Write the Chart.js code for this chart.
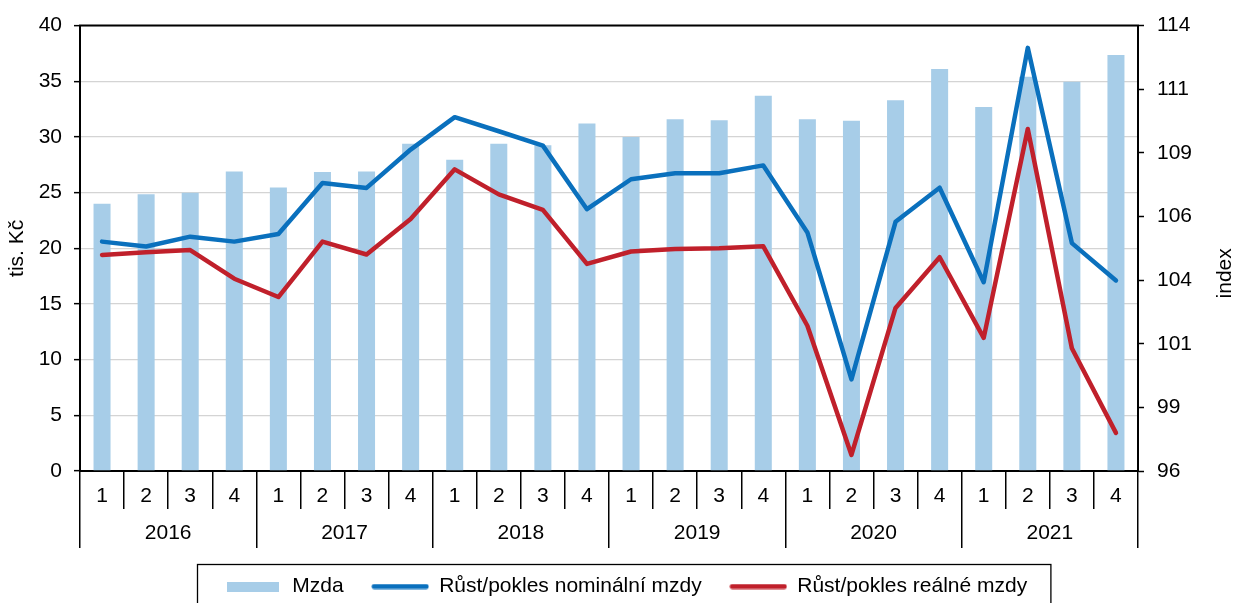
<!DOCTYPE html>
<html lang="cs">
<head>
<meta charset="utf-8">
<title>Mzda a její růst</title>
<script src="https://cdn.jsdelivr.net/npm/chart.js@4.4.1/dist/chart.umd.min.js"></script>
<style>
    html, body { margin: 0; padding: 0; background: #fff; }
    #obal { width: 1236px; height: 603px; }
</style>
</head>
<body>
<div id="obal"><canvas id="graf" width="1236" height="603"></canvas></div>
<script>
// čtvrtletí a roky na ose x
const ctvrtleti = ["1", "2", "3", "4", "1", "2", "3", "4", "1", "2", "3", "4",
                   "1", "2", "3", "4", "1", "2", "3", "4", "1", "2", "3", "4"];
const roky = ["2016", "2017", "2018", "2019", "2020", "2021"];

// průměrná mzda (tis. Kč), levá osa
const mzda = [24.0, 24.85, 25.0, 26.9, 25.45, 26.85, 26.9, 29.4,
              27.95, 29.4, 29.25, 31.2, 30.0, 31.6, 31.5, 33.7,
              31.6, 31.45, 33.3, 36.1, 32.7, 35.4, 34.95, 37.35];

// indexy (pravá osa)
const nominalni = [105.27, 105.07, 105.47, 105.27, 105.58, 107.64, 107.44, 108.99,
                   110.30, 109.73, 109.15, 106.58, 107.79, 108.03, 108.03, 108.35,
                   105.64, 99.7, 106.07, 107.45, 103.63, 113.1, 105.21, 103.70];
const realna = [104.73, 104.84, 104.93, 103.77, 103.03, 105.27, 104.75, 106.18,
                108.19, 107.18, 106.55, 104.37, 104.87, 104.97, 105.0, 105.08,
                101.87, 96.65, 102.59, 104.64, 101.38, 109.82, 100.96, 97.54];

// popisky pravé osy (Excel zaokrouhluje dílky 18/7)
const pravaOsaHodnoty = [96, 98.571, 101.143, 103.714, 106.286, 108.857, 111.429, 114];
const pravaOsaPopisky = ["96", "99", "101", "104", "106", "109", "111", "114"];

const nazvyRad = ["Mzda", "Růst/pokles nominální mzdy", "Růst/pokles reálné mzdy"];

const BARVA_SLOUPCE = "#a7cde8";
const BARVA_NOMINAL = "#0a70bd";
const BARVA_REAL = "#c0202b";

Chart.defaults.font.family = "'Liberation Sans', Arial, sans-serif";
Chart.defaults.font.size = 21;
Chart.defaults.color = "#000";

// malé obrázky pro legendu (obdélník a čáry)
function znacka(sirka, vyska, barva, cara) {
    const c = document.createElement("canvas");
    c.width = sirka;
    c.height = vyska;
    const g = c.getContext("2d");
    if (cara) {
        g.strokeStyle = barva;
        g.lineWidth = vyska - 1;
        g.lineCap = "round";
        g.beginPath();
        g.moveTo(vyska / 2, vyska / 2);
        g.lineTo(sirka - vyska / 2, vyska / 2);
        g.stroke();
    } else {
        g.fillStyle = barva;
        g.fillRect(0, 0, sirka, vyska);
    }
    return c;
}
const znackyLegendy = [
    znacka(52, 10, BARVA_SLOUPCE, false),
    znacka(58, 6, BARVA_NOMINAL, true),
    znacka(58, 6, BARVA_REAL, true)
];

// rámeček grafu nahoře, rámeček legendy a název pravé osy
const doplnky = {
    id: "doplnky",
    afterDraw(chart) {
        const ctx = chart.ctx;
        const a = chart.chartArea;
        ctx.save();
        ctx.strokeStyle = "#000";
        ctx.lineWidth = 2;
        ctx.beginPath();
        ctx.moveTo(a.left - 1, a.top);
        ctx.lineTo(a.right + 1, a.top);
        ctx.stroke();

        const hb = chart.legend.legendHitBoxes;
        if (hb && hb.length) {
            const prvni = hb[0];
            const posledni = hb[hb.length - 1];
            const x0 = prvni.left - 28;
            const x1 = posledni.left + posledni.width + 23;
            const y0 = prvni.top - 12;
            ctx.lineWidth = 1.3;
            ctx.strokeRect(Math.round(x0) + 0.5, Math.round(y0) + 0.5, x1 - x0, 80);
        }

        ctx.fillStyle = "#000";
        ctx.font = "21px 'Liberation Sans', Arial, sans-serif";
        ctx.textAlign = "center";
        ctx.textBaseline = "middle";
        ctx.translate(chart.width - 11, (a.top + a.bottom) / 2 + 25);
        ctx.rotate(-Math.PI / 2);
        ctx.fillText("index", 0, 0);
        ctx.restore();
    }
};

function initGraf() {
    const canvas = document.getElementById("graf");
    const ctx = canvas.getContext("2d");

    new Chart(ctx, {
        type: "bar",
        data: {
            labels: ctvrtleti,
            datasets: [
                {
                    type: "bar",
                    label: nazvyRad[0],
                    data: mzda,
                    backgroundColor: BARVA_SLOUPCE,
                    borderWidth: 0,
                    barPercentage: 0.386,
                    categoryPercentage: 1.0,
                    yAxisID: "y",
                    xAxisID: "x",
                    order: 3
                },
                {
                    type: "line",
                    label: nazvyRad[1],
                    data: nominalni,
                    borderColor: BARVA_NOMINAL,
                    backgroundColor: BARVA_NOMINAL,
                    borderWidth: 4.5,
                    pointRadius: 0,
                    tension: 0,
                    borderCapStyle: "round",
                    borderJoinStyle: "round",
                    yAxisID: "y1",
                    xAxisID: "x",
                    order: 2
                },
                {
                    type: "line",
                    label: nazvyRad[2],
                    data: realna,
                    borderColor: BARVA_REAL,
                    backgroundColor: BARVA_REAL,
                    borderWidth: 4.5,
                    pointRadius: 0,
                    tension: 0,
                    borderCapStyle: "round",
                    borderJoinStyle: "round",
                    yAxisID: "y1",
                    xAxisID: "x",
                    order: 1
                }
            ]
        },
        options: {
            responsive: false,
            animation: false,
            layout: {
                padding: { left: 0, right: -16, top: 22, bottom: -4 }
            },
            plugins: {
                tooltip: { enabled: false },
                legend: {
                    position: "bottom",
                    align: "center",
                    labels: {
                        usePointStyle: true,
                        pointStyleWidth: 57,
                        padding: 28,
                        color: "#000",
                        font: { size: 21 },
                        sort: (a, b) => a.datasetIndex - b.datasetIndex,
                        generateLabels: (chart) => {
                            const polozky = Chart.defaults.plugins.legend.labels.generateLabels(chart);
                            polozky.forEach(p => { p.pointStyle = znackyLegendy[p.datasetIndex]; });
                            return polozky;
                        }
                    }
                }
            },
            scales: {
                x: {
                    type: "category",
                    position: "bottom",
                    offset: true,
                    grid: {
                        offset: true,
                        drawOnChartArea: false,
                        tickLength: 38,
                        color: "#000",
                        tickColor: "#000",
                        lineWidth: 1.5
                    },
                    border: { display: true, color: "#000", width: 2 },
                    ticks: { padding: -25, maxRotation: 0, autoSkip: false, font: { size: 21 } },
                    afterFit: (scale) => { scale.height = 38; }
                },
                x2: {
                    type: "category",
                    axis: "x",
                    position: "bottom",
                    labels: roky,
                    offset: true,
                    grid: {
                        offset: true,
                        drawOnChartArea: false,
                        tickLength: 39,
                        color: "#000",
                        tickColor: "#000",
                        lineWidth: 1.5
                    },
                    border: { display: false },
                    ticks: { padding: -27, maxRotation: 0, autoSkip: false, font: { size: 21 } },
                    afterFit: (scale) => { scale.height = 39; }
                },
                y: {
                    type: "linear",
                    position: "left",
                    min: 0,
                    max: 40,
                    ticks: { stepSize: 5, padding: 12, font: { size: 21 } },
                    grid: {
                        color: "#d4d4d4",
                        lineWidth: 1.3,
                        tickColor: "#000",
                        tickLength: 6,
                        tickWidth: 1.5
                    },
                    border: { display: true, color: "#000", width: 2 },
                    title: {
                        display: true,
                        text: "tis. Kč",
                        font: { size: 21 },
                        padding: { top: 5, bottom: 0 }
                    },
                    afterFit: (scale) => { scale.width = 80; }
                },
                y1: {
                    type: "linear",
                    position: "right",
                    min: 96,
                    max: 114,
                    afterBuildTicks: (scale) => {
                        scale.ticks = pravaOsaHodnoty.map(v => ({ value: v }));
                    },
                    ticks: {
                        padding: 13,
                        font: { size: 21 },
                        callback: (value, index) => pravaOsaPopisky[index]
                    },
                    grid: {
                        drawOnChartArea: false,
                        color: "#000",
                        tickColor: "#000",
                        tickLength: 6,
                        tickWidth: 1.5
                    },
                    border: { display: true, color: "#000", width: 2 },
                    afterFit: (scale) => { scale.width = 114; }
                }
            }
        },
        plugins: [doplnky]
    });
}

if (document.readyState === "loading") {
    document.addEventListener("DOMContentLoaded", initGraf);
} else {
    initGraf();
}
</script>
</body>
</html>
